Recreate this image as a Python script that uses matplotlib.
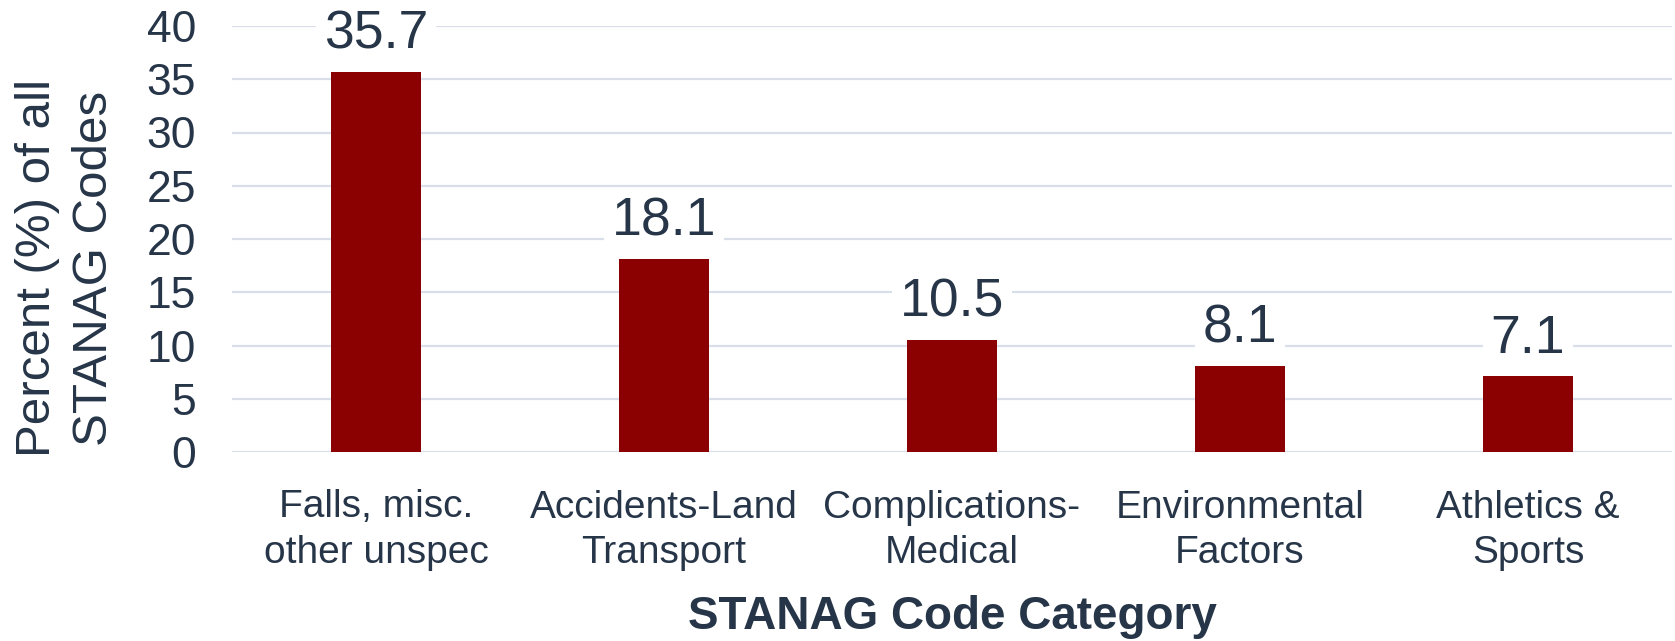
import matplotlib
matplotlib.use("Agg")
import matplotlib.pyplot as plt

# ---------------------------------------------------------------------------
# Data
# ---------------------------------------------------------------------------
categories = [
    "Falls, misc.\nother unspec",
    "Accidents-Land\nTransport",
    "Complications-\nMedical",
    "Environmental\nFactors",
    "Athletics &\nSports",
]
percent = [35.7, 18.1, 10.5, 8.1, 7.1]
y_ticks = [0, 5, 10, 15, 20, 25, 30, 35, 40]

TEXT = "#263548"
BAR = "#8B0000"
GRID = "#D9DEE8"

plt.rcParams["font.family"] = ["Liberation Sans", "DejaVu Sans"]

W, H = 1675, 641
fig = plt.figure(figsize=(W / 100, H / 100), dpi=100)
ax = fig.add_axes([232 / W, 1 - 452 / H, (1672 - 232) / W, (452 - 26) / H])

x = range(len(categories))
ax.bar(x, percent, width=0.31, color=BAR, zorder=2)

for xi, v in zip(x, percent):
    ax.annotate(
        f"{v}", (xi, v), xytext=(0, 9), textcoords="offset points",
        ha="center", va="bottom", fontsize=38.5, color=TEXT, zorder=3,
        annotation_clip=False,
        bbox=dict(boxstyle="square,pad=0.15", facecolor="white", edgecolor="none"),
    )

ax.set_xlim(-0.5, len(categories) - 0.5)
ax.set_ylim(0, 40)
ax.set_yticks(y_ticks)
ax.yaxis.grid(True, color=GRID, linewidth=1.6, zorder=0)
ax.set_axisbelow(True)
for s in ax.spines.values():
    s.set_visible(False)

ax.tick_params(axis="y", length=0, pad=26, labelsize=32, labelcolor=TEXT)
ax.tick_params(axis="x", length=0, pad=27, labelsize=28, labelcolor=TEXT)
ax.set_xticks(list(x))
ax.set_xticklabels(categories, linespacing=1.35)

fig.text(
    952 / W, 24 / H, "STANAG Code Category",
    ha="center", va="center", fontsize=33, fontweight="bold", color=TEXT,
)
fig.text(
    66 / W, 1 - 268 / H, "Percent (%) of all\nSTANAG Codes",
    ha="center", va="center", rotation=90, fontsize=35.5,
    color=TEXT, multialignment="center", linespacing=1.35,
)

fig.savefig("out.png", dpi=100, facecolor="white")
